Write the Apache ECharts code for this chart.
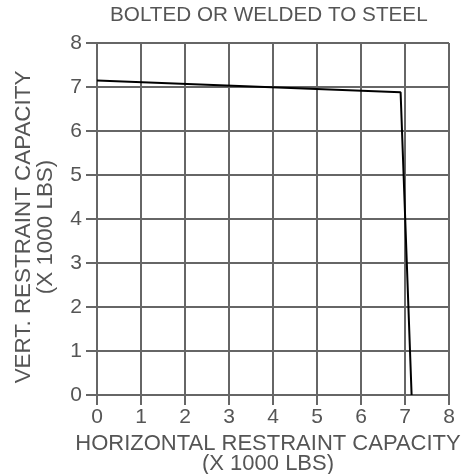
<!DOCTYPE html>
<html>
<head>
<meta charset="utf-8">
<script src="https://cdn.jsdelivr.net/npm/echarts@6/dist/echarts.min.js"></script>
<style>
  html, body { margin: 0; padding: 0; background: #fff; }
  #chart { width: 461px; height: 474px; }
</style>
</head>
<body>
<div id="chart"></div>
<script>
// capacity curve (x 1000 lbs)
const horiz = [0, 6.9, 7.15]
const vert = [7.15, 6.88, 0]
const ticks = [0, 1, 2, 3, 4, 5, 6, 7, 8]

const gridColor = '#666'
const textColor = '#555'
const font = 'Liberation Sans, Arial, sans-serif'

let chart = echarts.init(document.getElementById('chart'))

let option = {
  animation: false,
  title: {
    text: 'BOLTED OR WELDED TO STEEL',
    left: 110,
    top: 0,
    padding: [5, 0, 5, 0],
    textStyle: { fontFamily: font, fontSize: 20.7, fontWeight: 'normal', color: textColor }
  },
  grid: { left: 97, right: 12, top: 43, bottom: 79, containLabel: false, outerBoundsMode: 'none' },
  xAxis: {
    type: 'value',
    min: ticks[0],
    max: ticks[ticks.length - 1],
    interval: 1,
    name: 'HORIZONTAL RESTRAINT CAPACITY\n(X 1000 LBS)',
    nameLocation: 'middle',
    nameGap: 33,
    nameTextStyle: { fontFamily: font, fontSize: 22, color: textColor, lineHeight: 20, verticalAlign: 'top', padding: [0, 10, 0, 0] },
    axisLine: { lineStyle: { color: gridColor, width: 2 } },
    axisTick: { show: true, length: 10, lineStyle: { color: gridColor, width: 2 } },
    axisLabel: { fontFamily: font, fontSize: 21, color: textColor, margin: 12 },
    splitLine: { lineStyle: { color: gridColor, width: 2 } }
  },
  yAxis: {
    type: 'value',
    min: ticks[0],
    max: ticks[ticks.length - 1],
    interval: 1,
    name: 'VERT. RESTRAINT CAPACITY\n(X 1000 LBS)',
    nameLocation: 'middle',
    nameGap: 40,
    nameRotate: 90,
    nameTextStyle: { fontFamily: font, fontSize: 22.4, color: textColor, lineHeight: 22, padding: [0, 16, 0, 0] },
    axisLine: { show: true, lineStyle: { color: gridColor, width: 2 } },
    axisTick: { show: true, length: 11, lineStyle: { color: gridColor, width: 2 } },
    axisLabel: { fontFamily: font, fontSize: 21, color: textColor, margin: 15 },
    splitLine: { lineStyle: { color: gridColor, width: 2 } }
  },
  series: [{
    type: 'line',
    data: horiz.map((x, i) => [x, vert[i]]),
    showSymbol: false,
    lineStyle: { color: '#000', width: 2 },
    z: 5
  }]
}

chart.setOption(option)
</script>
</body>
</html>
